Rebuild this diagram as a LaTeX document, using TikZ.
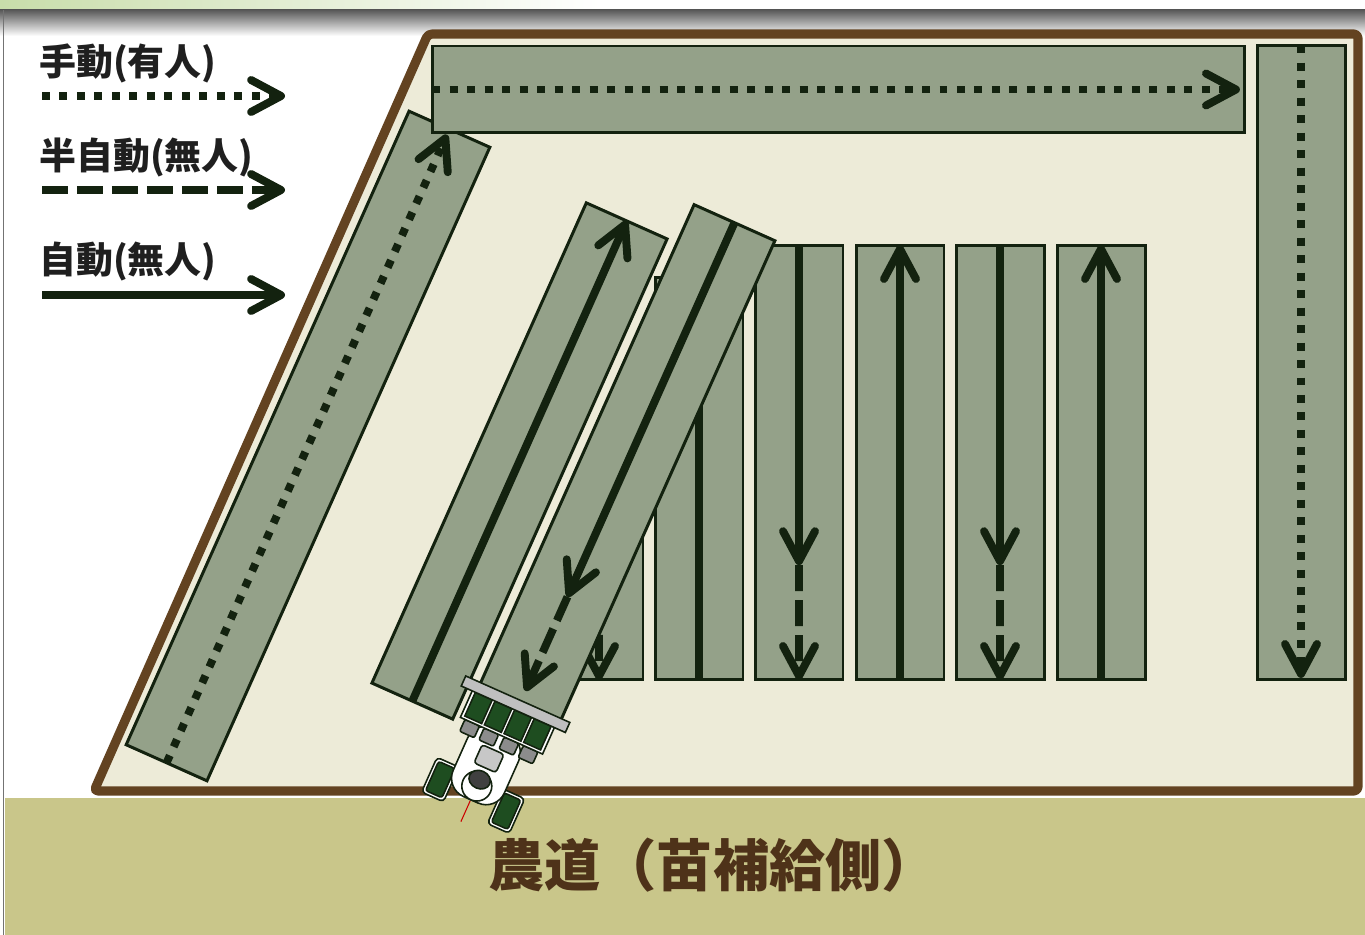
\documentclass[tikz,border=0pt]{standalone}
\usepackage{fontspec}
\usepackage{tikz}
\usetikzlibrary{arrows.meta,calc}
\newfontfamily\jp{Noto Sans CJK JP}

\definecolor{headgreen}{HTML}{C8DDAA}
\definecolor{fieldfill}{HTML}{EDEBD8}
\definecolor{bank}{HTML}{634321}
\definecolor{lanefill}{HTML}{94A189}
\definecolor{track}{HTML}{13220F}
\definecolor{road}{HTML}{C9C68A}
\definecolor{roadtext}{HTML}{4E3219}
\definecolor{seedling}{HTML}{1E4D20}

\begin{document}
\begin{tikzpicture}[x=0.02cm,y=-0.02cm,>={Straight Barb[round,length=0.6cm,width=0.64cm]},
  lane/.style={draw=track,fill=lanefill,line width=1.7pt,inner sep=0pt,outer sep=0pt,minimum width=1.76cm},
  slope lane/.style={lane,minimum width=0pt,minimum height=1.77cm,rotate=65.94},
  run/.style={draw=track,line width=4.5pt},
  manual run/.style={run,dash pattern=on 0.16cm off 0.19cm},
  semi run/.style={run,dash pattern=on 0.52cm off 0.18cm},
  legend text/.style={font=\jp\bfseries\fontsize{21}{25}\selectfont,text=black!88,anchor=west,inner sep=0pt}]

  \useasboundingbox[fill=white] (0,0) rectangle (1365,935);

  % header band
  \shade[left color=headgreen,right color=white] (0,0) rectangle (600,10);
  \shade[top color=black!65,bottom color=white] (0,10) rectangle (1365,36);
  \draw[black!55,line width=0.9pt] (3.5,10) -- (3.5,935);

  % road and field
  \fill[road] (5,798) rectangle (1365,935);
  \draw[bank,fill=fieldfill,line width=5.2pt,line join=round,rounded corners=0.08cm]
    (428,34) -- (1358,34) -- (1358,791) -- (94,791) -- cycle;

  % straight lanes
  \node[lane,minimum height=3.2cm] (v1) at (599,600) {};
  \coordinate (turn1) at ($(v1.north)!0.28!(v1.south)$);
  \draw[run,->] (v1.north) -- (turn1);
  \draw[semi run,->] (turn1) -- (v1.south);

  \node[lane,minimum height=8.06cm] (v2) at (699,478.5) {};
  \draw[run] (v2.north) -- (v2.south);

  \node[lane,minimum height=8.7cm] (v3) at (799,462.5) {};
  \coordinate (turn3) at ($(v3.north)!0.736!(v3.south)$);
  \draw[run,->] (v3.north) -- (turn3);
  \draw[semi run,->] (turn3) -- (v3.south);

  \node[lane,minimum height=8.7cm] (v4) at (900,462.5) {};
  \draw[run,->] (v4.south) -- (v4.north);

  \node[lane,minimum height=8.7cm] (v5) at (1000,462.5) {};
  \coordinate (turn5) at ($(v5.north)!0.736!(v5.south)$);
  \draw[run,->] (v5.north) -- (turn5);
  \draw[semi run,->] (turn5) -- (v5.south);

  \node[lane,minimum height=8.7cm] (v6) at (1101,462.5) {};
  \draw[run,->] (v6.south) -- (v6.north);

  \node[lane,minimum height=12.7cm] (edge right) at (1301,362.5) {};
  \draw[manual run,->,shorten >=0.04cm] (edge right.north) -- (edge right.south);

  % slanted lanes
  \node[slope lane,minimum width=10.52cm] (slope a) at (519.5,461) {};
  \draw[run,->] (slope a.west) -- (slope a.east);

  \node[slope lane,minimum width=10.52cm] (slope b) at (627.3,462.8) {};
  \coordinate (turn b) at ($(slope b.east)!0.779!(slope b.west)$);
  \coordinate (end b) at ($(slope b.east)!0.975!(slope b.west)$);
  \draw[run,->] (slope b.east) -- (turn b);
  \draw[semi run,->] (turn b) -- (end b);

  \node[slope lane,minimum width=13.88cm] (edge left) at (308,446) {};
  \draw[manual run,->,shorten >=0.12cm] (edge left.west) -- (edge left.east);

  \node[lane,minimum width=16.26cm,minimum height=1.74cm] (edge top) at (838.5,89.5) {};
  \draw[manual run,->,shorten >=0.1cm] (edge top.west) -- (edge top.east);

  % legend
  \node[legend text] (manual) at (39,63) {手動(有人)};
  \coordinate (manual from) at (42,96);
  \coordinate (manual to) at (285,96);
  \draw[manual run,->] (manual from) -- (manual to);

  \node[legend text] (semi) at (39,157) {半自動(無人)};
  \coordinate (semi from) at (42,190);
  \coordinate (semi to) at (285,190);
  \draw[semi run,->] (semi from) -- (semi to);

  \node[legend text] (full) at (39,261) {自動(無人)};
  \coordinate (full from) at (42,295);
  \coordinate (full to) at (285,295);
  \draw[run,->] (full from) -- (full to);

  \node[font=\jp\bfseries\fontsize{32}{38}\selectfont,text=roadtext] (road label) at (713,865) {農道（苗補給側）};

  % transplanter
  \begin{scope}[shift={(514.5,706.5)},rotate=-24.06,line width=0.9pt]
    \draw[red!80!black,line width=0.6pt] (-2,104) -- (-2,127);
    \draw[track,fill=white,rounded corners=0.08cm] (-50,78) rectangle (-26,116);
    \draw[track,fill=seedling,rounded corners=0.05cm] (-47,81) rectangle (-29,113);
    \draw[track,fill=white,rounded corners=0.08cm] (23,80) rectangle (47,118);
    \draw[track,fill=seedling,rounded corners=0.05cm] (26,83) rectangle (44,115);
    \draw[track,fill=white,rounded corners=0.4cm] (-30,28) rectangle (26,103);
    \draw[track,fill=black!22,rounded corners=0.06cm] (-14,48) rectangle (10,68);
    \draw[track,fill=white] (-2,88) circle[radius=0.3cm];
    \draw[track,fill=black!75] (-2,81) ellipse[x radius=0.22cm,y radius=0.18cm];
    \draw[track,fill=black!45,rounded corners=0.04cm] (-40,32) rectangle (-24,45);
    \draw[track,fill=black!45,rounded corners=0.04cm] (-19,32) rectangle (-3,45);
    \draw[track,fill=black!45,rounded corners=0.04cm] (3,32) rectangle (19,45);
    \draw[track,fill=black!45,rounded corners=0.04cm] (24,32) rectangle (40,45);
    \draw[track,fill=white] (-45,-3) rectangle (45,32);
    \draw[track,fill=seedling] (-41.5,3) rectangle (-23,29);
    \draw[track,fill=seedling] (-20,3) rectangle (-1.5,29);
    \draw[track,fill=seedling] (1.5,3) rectangle (20,29);
    \draw[track,fill=seedling] (23,3) rectangle (41.5,29);
    \draw[track,fill=black!25] (-57,-8) rectangle (57,3);
  \end{scope}

\end{tikzpicture}
\end{document}
